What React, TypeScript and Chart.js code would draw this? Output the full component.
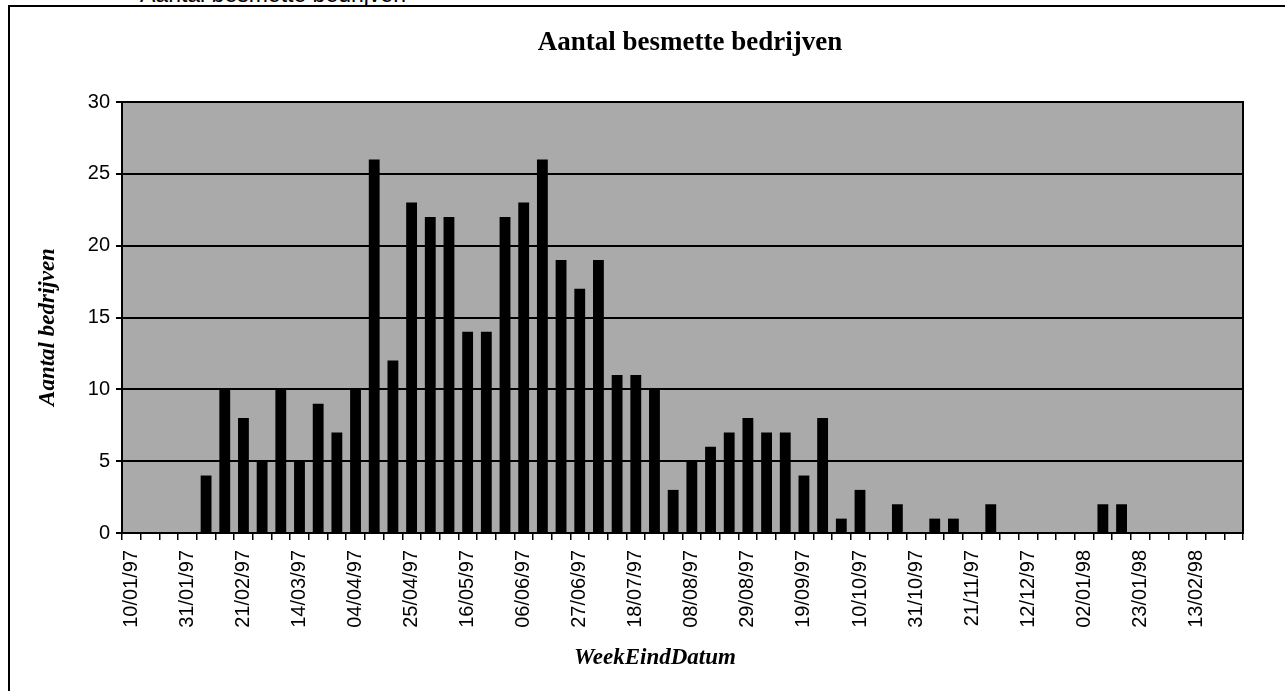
import React, { useEffect, useRef } from "react";
import { Chart, registerables } from "chart.js";

Chart.register(...registerables);

const weekEindDatum = [
  "10/01/97", "17/01/97", "24/01/97", "31/01/97", "07/02/97", "14/02/97", "21/02/97", "28/02/97",
  "07/03/97", "14/03/97", "21/03/97", "28/03/97", "04/04/97", "11/04/97", "18/04/97", "25/04/97",
  "02/05/97", "09/05/97", "16/05/97", "23/05/97", "30/05/97", "06/06/97", "13/06/97", "20/06/97",
  "27/06/97", "04/07/97", "11/07/97", "18/07/97", "25/07/97", "01/08/97", "08/08/97", "15/08/97",
  "22/08/97", "29/08/97", "05/09/97", "12/09/97", "19/09/97", "26/09/97", "03/10/97", "10/10/97",
  "17/10/97", "24/10/97", "31/10/97", "07/11/97", "14/11/97", "21/11/97", "28/11/97", "05/12/97",
  "12/12/97", "19/12/97", "26/12/97", "02/01/98", "09/01/98", "16/01/98", "23/01/98", "30/01/98",
  "06/02/98", "13/02/98", "20/02/98", "27/02/98",
];

const aantalBesmetteBedrijven = [
  0, 0, 0, 0, 4, 10, 8, 5, 10, 5, 9, 7, 10, 26, 12, 23,
  22, 22, 14, 14, 22, 23, 26, 19, 17, 19, 11, 11, 10, 3, 5, 6,
  7, 8, 7, 7, 4, 8, 1, 3, 0, 2, 0, 1, 1, 0, 2, 0,
  0, 0, 0, 0, 2, 2, 0, 0, 0, 0, 0, 0,
];

const yTicks = [0, 5, 10, 15, 20, 25, 30];
const labelEvery = 3;

const chartTitle = "Aantal besmette bedrijven";
const xTitle = "WeekEindDatum";
const yTitle = "Aantal bedrijven";

const serif = "'Liberation Serif', 'Times New Roman', serif";
const sans = "'Liberation Sans', Arial, sans-serif";

const plotArea = {
  id: "plotArea",
  beforeDraw(chart: any) {
    const { ctx, chartArea } = chart;
    ctx.save();
    ctx.fillStyle = "#aaaaaa";
    ctx.fillRect(chartArea.left, chartArea.top, chartArea.width, chartArea.height);
    ctx.restore();
  },
  afterDraw(chart: any) {
    const { ctx, chartArea } = chart;
    ctx.save();
    ctx.strokeStyle = "#000";
    ctx.lineWidth = 2;
    ctx.strokeRect(chartArea.left, chartArea.top, chartArea.width, chartArea.height);

    ctx.fillStyle = "#000";
    ctx.textAlign = "center";
    ctx.textBaseline = "middle";
    ctx.font = `bold 27px ${serif}`;
    ctx.fillText(chartTitle, 690, 43);

    ctx.font = `italic bold 23px ${serif}`;
    ctx.fillText(xTitle, 655, 658);

    ctx.translate(48, 327);
    ctx.rotate(-Math.PI / 2);
    ctx.fillText(yTitle, 0, 0);
    ctx.restore();
  },
};

export default function App() {
  const ref = useRef<HTMLCanvasElement | null>(null);

  useEffect(() => {
    if (!ref.current) return;
    const tickFont = { family: sans, size: 20 };
    const chart = new Chart(ref.current, {
      type: "bar",
      data: {
        labels: weekEindDatum,
        datasets: [
          {
            label: chartTitle,
            data: aantalBesmetteBedrijven,
            backgroundColor: "#000",
            borderWidth: 0,
            barPercentage: 0.58,
            categoryPercentage: 1,
          },
        ],
      },
      options: {
        animation: false,
        responsive: false,
        devicePixelRatio: 1,
        layout: { padding: { left: 0, right: 42, top: 102, bottom: 0 } },
        plugins: {
          legend: { display: false },
          tooltip: { enabled: false },
          title: { display: false },
        },
        scales: {
          x: {
            offset: true,
            grid: {
              display: true,
              drawOnChartArea: false,
              drawTicks: true,
              tickLength: 7,
              color: "#000",
              lineWidth: 1.5,
              offset: true,
            },
            border: { display: true, color: "#000", width: 2 },
            ticks: {
              autoSkip: false,
              minRotation: 90,
              maxRotation: 90,
              padding: 10,
              color: "#000",
              font: tickFont,
              callback: (_v: any, i: number) => (i % labelEvery === 0 ? weekEindDatum[i] : ""),
            },
            title: { display: false },
            afterFit: (s: any) => {
              s.height = 158;
            },
          },
          y: {
            min: 0,
            max: 30,
            afterBuildTicks: (s: any) => {
              s.ticks = yTicks.map((v) => ({ value: v }));
            },
            ticks: { stepSize: 5, padding: 6, color: "#000", font: tickFont },
            grid: { color: "#000", lineWidth: 2, tickLength: 6 },
            border: { display: true, color: "#000", width: 2 },
            title: { display: false },
            afterFit: (s: any) => {
              s.width = 122;
            },
          },
        },
      },
      plugins: [plotArea],
    });
    return () => chart.destroy();
  }, []);

  return (
    <div style={{ position: "fixed", left: 0, top: 0, width: 1285, height: 691, overflow: "hidden", background: "#fff" }}>
      <div
        style={{
          position: "absolute",
          left: 140,
          top: -19,
          font: `23px ${sans}`,
          whiteSpace: "nowrap",
          color: "#000",
        }}
      >
        Aantal besmette bedrijven
      </div>
      <div
        style={{
          position: "absolute",
          left: 8,
          top: 5,
          width: 1300,
          height: 700,
          border: "2px solid #000",
          boxSizing: "border-box",
        }}
      />
      <canvas ref={ref} width={1285} height={691} style={{ position: "absolute", left: 0, top: 0 }} />
    </div>
  );
}
